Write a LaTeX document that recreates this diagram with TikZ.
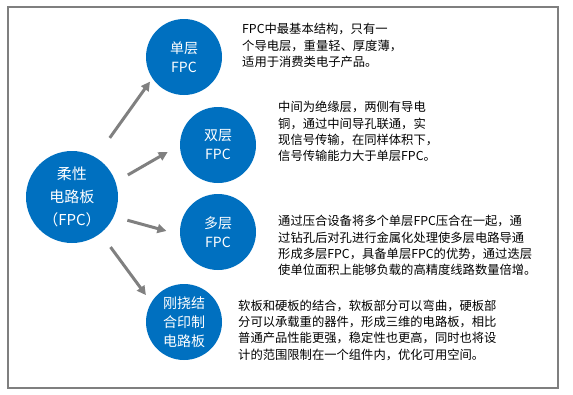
\documentclass[tikz,border=0pt]{standalone}
\usepackage{fontspec}
\usepackage{tikz}
\usetikzlibrary{arrows.meta}
\newfontfamily\cjkfont{Noto Sans CJK SC}
\definecolor{fpcblue}{HTML}{0070C0}
\definecolor{arrgray}{HTML}{808080}
\definecolor{framegray}{HTML}{7F7F7F}

\begin{document}
\begin{tikzpicture}[x=1pt,y=-1pt,
  bubble/.style={circle,fill=fpcblue,text=white,minimum size=76pt,inner sep=0pt,align=center,font=\cjkfont\fontsize{14}{19}\selectfont},
  desc/.style={anchor=west,inner sep=0pt,align=left,font=\cjkfont\fontsize{12.3}{16.3}\selectfont},
  arr/.style={arrgray,line width=3pt,-{Triangle[length=9pt,width=9pt]}}]
  \useasboundingbox (0,0) rectangle (573,394);
  \draw[framegray,line width=1.3pt] (8,7) rectangle (558,388);
  % centre
  \node[bubble,minimum size=92pt,font=\cjkfont\fontsize{15}{23}\selectfont] (fpc) at (72,197) {柔性\\电路板\\（FPC）};
  % the four kinds
  \node[bubble] (single) at (184,57) {单层\\FPC};
  \node[bubble] (double) at (218,145) {双层\\FPC};
  \node[bubble] (multi) at (218,232) {多层\\FPC};
  \node[bubble] (rigid) at (184,322) {刚挠结\\合印制\\电路板};
  \draw[arr,shorten <=24pt,shorten >=4pt] (fpc.59) -- (single.214);
  \draw[arr,shorten <=14pt,shorten >=14pt] (fpc.19) -- (double.180);
  \draw[arr,shorten <=14pt,shorten >=14pt] (fpc.-25) -- (multi.184);
  \draw[arr,shorten <=17pt,shorten >=9pt] (fpc.-52) -- (rigid.149);
  % descriptions
  \node[desc] (singletxt) at (242,45.5) {FPC中最基本结构，只有一\\个导电层，重量轻、厚度薄，\\适用于消费类电子产品。};
  \node[desc] (doubletxt) at (278,131.5) {中间为绝缘层，两侧有导电\\铜，通过中间导孔联通，实\\现信号传输，在同样体积下，\\信号传输能力大于单层FPC。};
  \node[desc] (multitxt) at (278,245.5) {通过压合设备将多个单层FPC压合在一起，通\\过钻孔后对孔进行金属化处理使多层电路导通\\形成多层FPC，具备单层FPC的优势，通过迭层\\使单位面积上能够负载的高精度线路数量倍增。};
  \node[desc] (rigidtxt) at (238,330) {软板和硬板的结合，软板部分可以弯曲，硬板部\\分可以承载重的器件，形成三维的电路板，相比\\普通产品性能更强，稳定性也更高，同时也将设\\计的范围限制在一个组件内，优化可用空间。};
\end{tikzpicture}
\end{document}
